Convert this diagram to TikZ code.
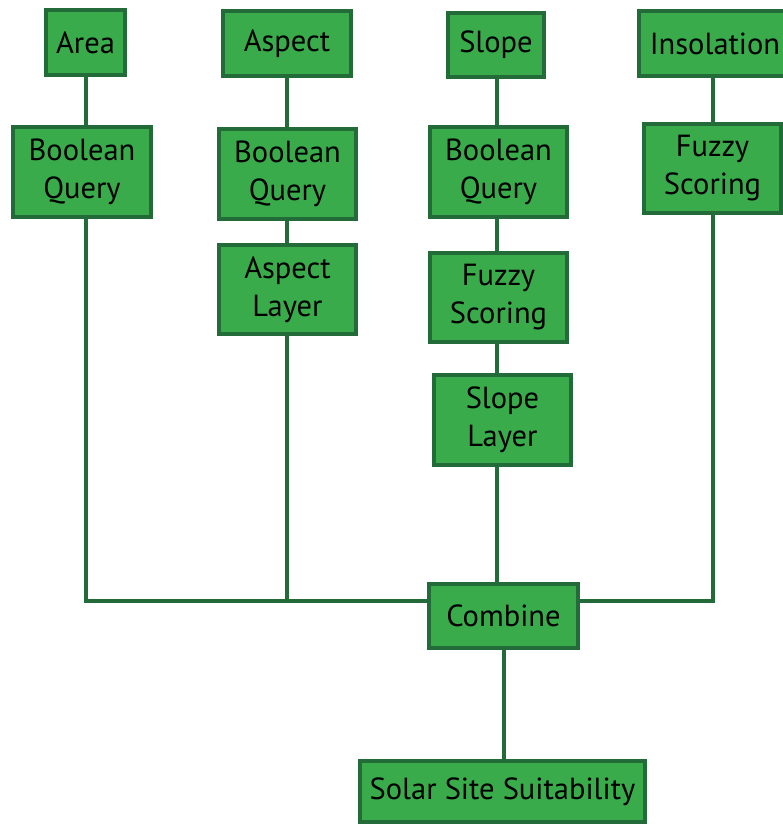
\documentclass[tikz,border=0pt]{standalone}
\usepackage{fontspec}
\setmainfont{PT Sans}
\definecolor{boxfill}{HTML}{39AB4A}
\definecolor{boxline}{HTML}{236B39}
\begin{document}
\begin{tikzpicture}[x=1pt,y=-1pt,
  box/.style={draw=boxline,fill=boxfill,line width=4pt,inner sep=0pt,align=center,
    font=\fontsize{30.5}{38}\selectfont,text=black},
  wire/.style={draw=boxline,line width=4pt}]
\useasboundingbox (0,0) rectangle (783,826);
\coordinate (hy) at (0,601);
\node[box,minimum width=79pt,minimum height=65pt] (area) at (85.5,42.5) {Area};
\node[box,minimum width=128pt,minimum height=65pt] (aspect) at (287,43.5) {Aspect};
\node[box,minimum width=96pt,minimum height=64pt] (slope) at (496,45) {Slope};
\node[box,minimum width=152pt,minimum height=65pt] (insol) at (715,43.5) {Insolation};
\node[box,minimum width=138pt,minimum height=90pt] (bq1) at (82,172) {Boolean\\Query};
\node[box,minimum width=137pt,minimum height=90pt] (bq2) at (287.5,174) {Boolean\\Query};
\node[box,minimum width=137pt,minimum height=89pt] (alayer) at (287.5,289.5) {Aspect\\Layer};
\node[box,minimum width=137pt,minimum height=90pt] (bq3) at (498.5,172) {Boolean\\Query};
\node[box,minimum width=137pt,minimum height=89pt] (fz1) at (498.5,297.5) {Fuzzy\\Scoring};
\node[box,minimum width=137pt,minimum height=90pt] (slayer) at (502.5,420) {Slope\\Layer};
\node[box,minimum width=137pt,minimum height=89pt] (fz2) at (712.5,168.5) {Fuzzy\\Scoring};
\node[box,minimum width=149pt,minimum height=64pt] (combine) at (503.5,616) {Combine};
\node[box,minimum width=285pt,minimum height=61pt] (solar) at (502.5,791.5) {Solar Site Suitability};
% connectors
\draw[wire] (area.south) -- (area.south |- bq1.north);
\draw[wire] (area.south |- bq1.south) -- (area.south |- hy) -- (combine.west |- hy);
\draw[wire] (aspect.south) -- (aspect.south |- bq2.north);
\draw[wire] (aspect.south |- bq2.south) -- (aspect.south |- alayer.north);
\draw[wire] (aspect.south |- alayer.south) -- (aspect.south |- hy);
\draw[wire] ([xshift=1pt]slope.south) -- ([xshift=1pt]slope.south |- bq3.north);
\draw[wire] ([xshift=1pt]slope.south |- bq3.south) -- ([xshift=1pt]slope.south |- fz1.north);
\draw[wire] ([xshift=1pt]slope.south |- fz1.south) -- ([xshift=1pt]slope.south |- slayer.north);
\draw[wire] ([xshift=1pt]slope.south |- slayer.south) -- ([xshift=1pt]slope.south |- combine.north);
\draw[wire] (fz2.north |- insol.south) -- (fz2.north);
\draw[wire] (fz2.south) -- (fz2.south |- hy) -- (combine.east |- hy);
\draw[wire] (combine.south) -- (combine.south |- solar.north);
\end{tikzpicture}
\end{document}
